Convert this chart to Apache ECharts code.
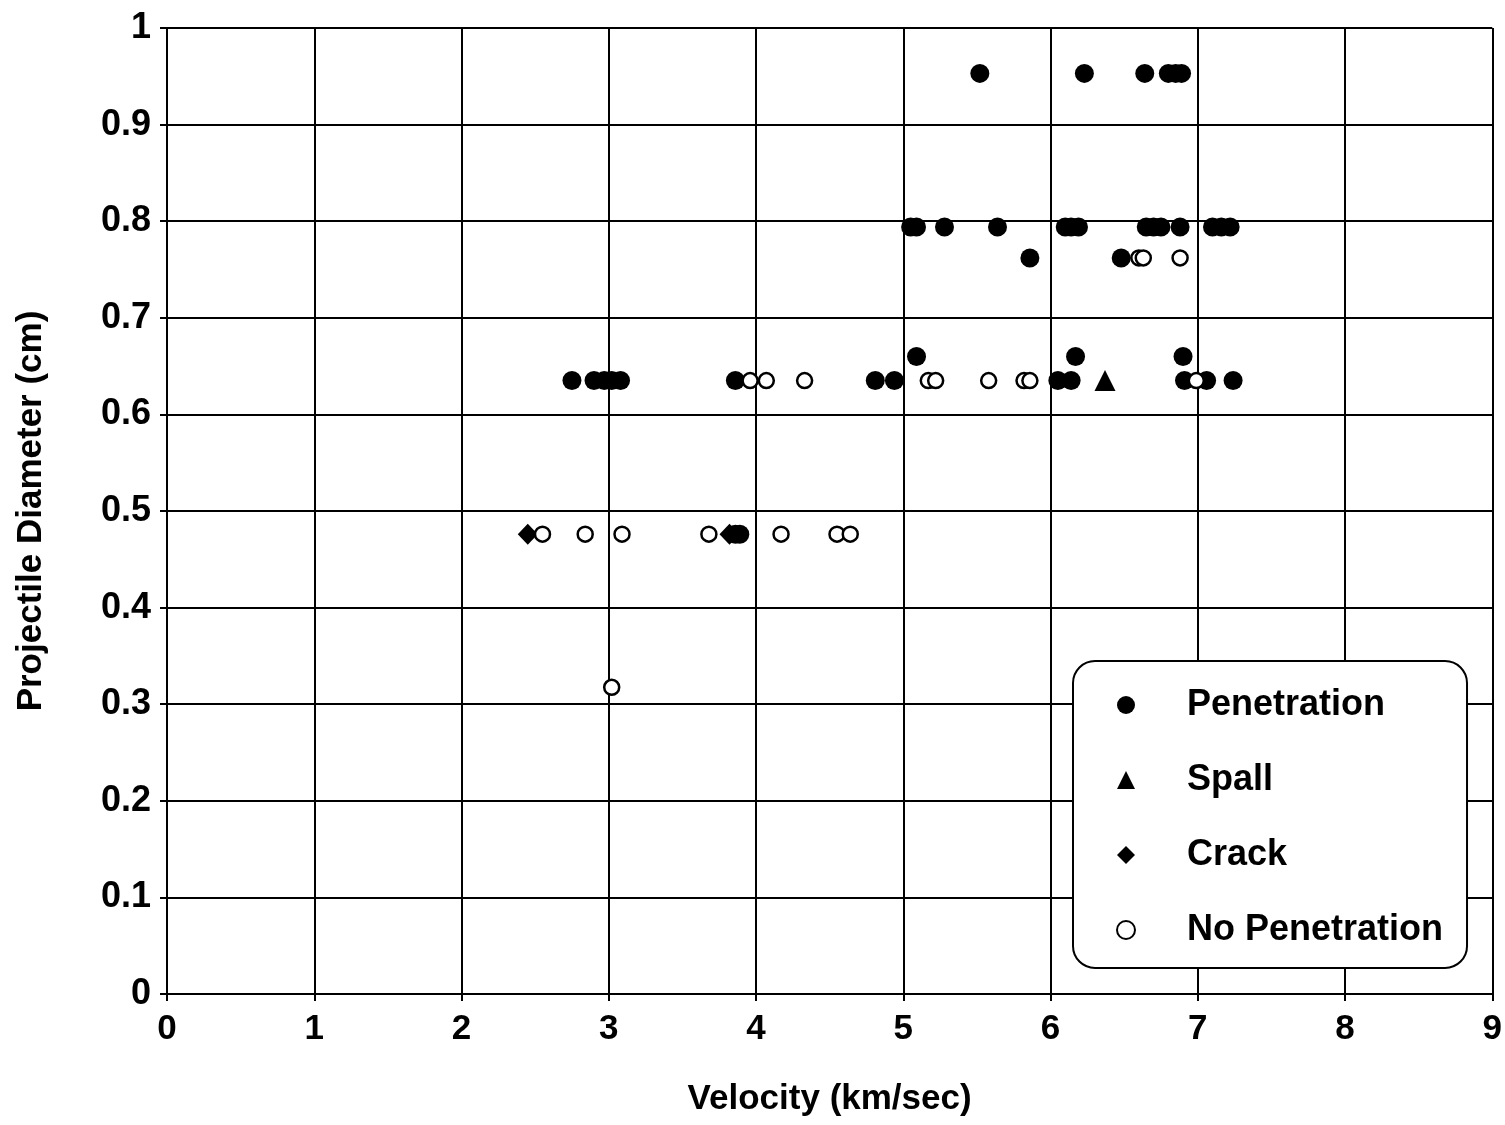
<!DOCTYPE html>
<html>
<head>
<meta charset="utf-8">
<title>Projectile Diameter vs Velocity</title>
<script src="https://cdn.jsdelivr.net/npm/echarts@6/dist/echarts.min.js"></script>
<style>
  html, body { margin: 0; padding: 0; background: #ffffff; }
  #chart { width: 1505px; height: 1125px; }
</style>
</head>
<body>
<div id="chart"></div>
<script>
// Impact test outcomes: [velocity km/sec, projectile diameter cm]
const penetration = [
  [5.52, 0.953], [6.23, 0.953], [6.64, 0.953], [6.80, 0.953], [6.85, 0.953], [6.89, 0.953],
  [5.05, 0.794], [5.09, 0.794], [5.28, 0.794], [5.64, 0.794], [6.10, 0.794], [6.14, 0.794],
  [6.19, 0.794], [6.65, 0.794], [6.70, 0.794], [6.75, 0.794], [6.88, 0.794], [7.10, 0.794],
  [7.16, 0.794], [7.22, 0.794],
  [5.86, 0.762], [6.48, 0.762],
  [5.09, 0.660], [6.17, 0.660], [6.90, 0.660],
  [2.75, 0.635], [2.90, 0.635], [2.97, 0.635], [3.02, 0.635], [3.08, 0.635], [3.86, 0.635],
  [4.81, 0.635], [4.94, 0.635], [6.05, 0.635], [6.14, 0.635], [6.91, 0.635], [7.06, 0.635],
  [7.24, 0.635],
  [3.86, 0.476], [3.89, 0.476]
];
const spall = [[6.37, 0.635]];
const crack = [[2.45, 0.476], [3.82, 0.476]];
const noPenetration = [
  [6.60, 0.762], [6.63, 0.762], [6.88, 0.762],
  [3.96, 0.635], [4.07, 0.635], [4.33, 0.635], [5.17, 0.635], [5.22, 0.635], [5.58, 0.635],
  [5.82, 0.635], [5.86, 0.635], [6.99, 0.635],
  [2.55, 0.476], [2.84, 0.476], [3.09, 0.476], [3.68, 0.476], [4.17, 0.476], [4.55, 0.476],
  [4.64, 0.476],
  [3.02, 0.3175]
];
const seriesNames = ['Penetration', 'Spall', 'Crack', 'No Penetration'];
const xAxisTitle = 'Velocity (km/sec)';
const yAxisTitle = 'Projectile Diameter (cm)';

const FONT = '"Liberation Sans", Arial, Helvetica, sans-serif';
const INK = '#000000';

const chart = echarts.init(document.getElementById('chart'), null, { renderer: 'canvas' });

const axisCommon = {
  axisLine: { show: true, onZero: false, lineStyle: { color: INK, width: 2 } },
  axisTick: { show: true, inside: false, length: 7, lineStyle: { color: INK, width: 2 } },
  splitLine: { show: true, lineStyle: { color: INK, width: 2 } },
  nameLocation: 'middle',
  nameTextStyle: { fontFamily: FONT, fontWeight: 'bold', fontSize: 35, color: INK }
};

chart.setOption({
  backgroundColor: '#ffffff',
  animation: false,
  grid: { left: 167, right: 8, top: 28, bottom: 131, containLabel: false },
  xAxis: Object.assign({}, axisCommon, {
    type: 'value', min: 0, max: 9, interval: 1,
    name: xAxisTitle, nameGap: 88,
    axisLabel: { fontFamily: FONT, fontWeight: 'bold', fontSize: 35, color: INK, margin: 18 }
  }),
  yAxis: Object.assign({}, axisCommon, {
    type: 'value', min: 0, max: 1, interval: 0.1,
    name: yAxisTitle, nameGap: 118, nameRotate: 90,
    axisLabel: { fontFamily: FONT, fontWeight: 'bold', fontSize: 36, color: INK, margin: 16 }
  }),
  legend: {
    data: seriesNames,
    orient: 'vertical',
    left: 1073, top: 661,
    backgroundColor: '#ffffff',
    borderColor: INK, borderWidth: 2, borderRadius: 22,
    padding: [24, 24, 18, 43],
    itemWidth: 18, itemHeight: 18, itemGap: 35,
    symbolKeepAspect: true,
    textStyle: { fontFamily: FONT, fontWeight: 'bold', fontSize: 36, color: INK,
                 lineHeight: 40, padding: [0, 0, 0, 47] }
  },
  series: [
    {
      name: seriesNames[0], type: 'scatter', data: penetration,
      symbol: 'circle', symbolSize: 19,
      itemStyle: { color: INK, opacity: 1 }, z: 3
    },
    {
      name: seriesNames[1], type: 'scatter', data: spall,
      symbol: 'triangle', symbolSize: 21,
      itemStyle: { color: INK, opacity: 1 }, z: 4
    },
    {
      name: seriesNames[2], type: 'scatter', data: crack,
      symbol: 'diamond', symbolSize: [20, 21],
      itemStyle: { color: INK, opacity: 1 }, z: 4
    },
    {
      name: seriesNames[3], type: 'scatter', data: noPenetration,
      symbol: 'circle', symbolSize: 15,
      itemStyle: { color: '#ffffff', borderColor: INK, borderWidth: 2.5, opacity: 1 }, z: 5
    }
  ]
});
</script>
</body>
</html>
